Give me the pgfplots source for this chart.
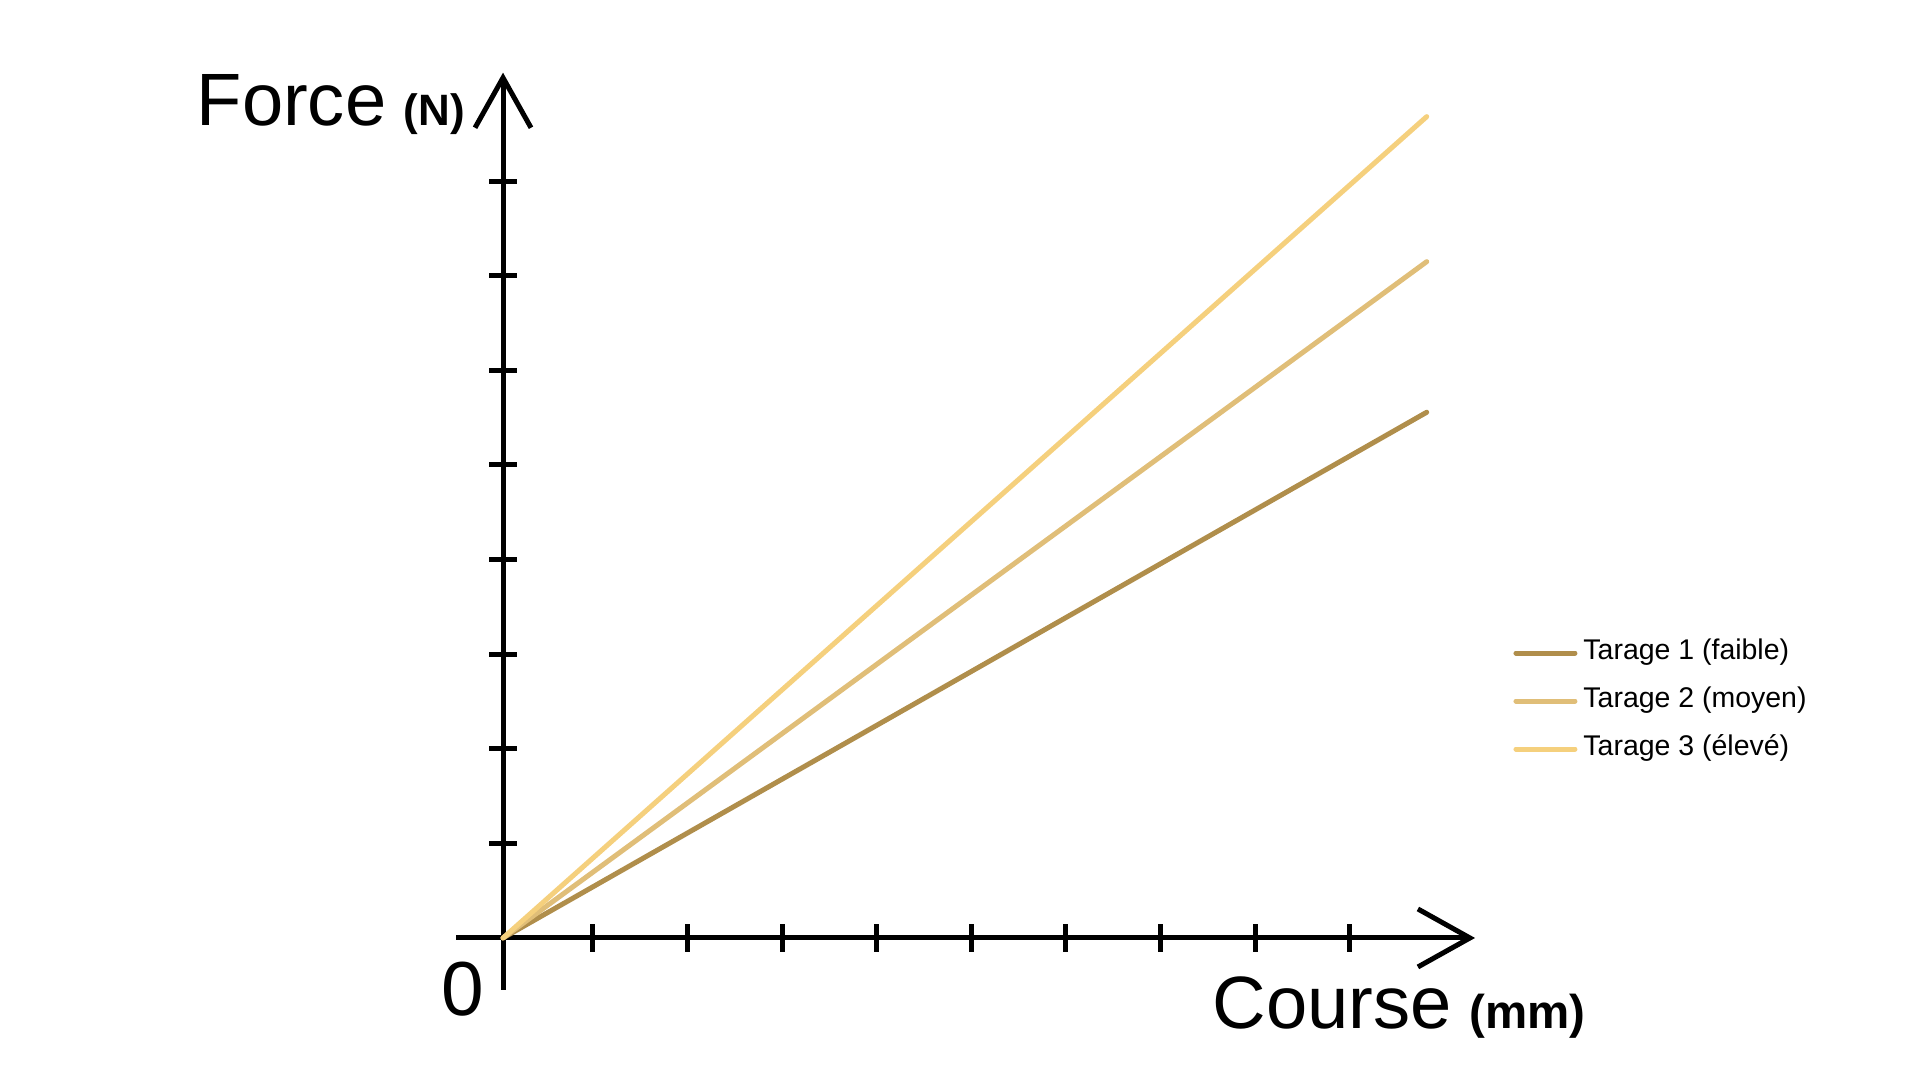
\documentclass[border=0pt]{standalone}
\usepackage{pgfplots}
\pgfplotsset{compat=1.18}
\usepackage{fontspec}
\setmainfont{Liberation Sans}
\usetikzlibrary{arrows.meta}
\definecolor{tone}{RGB}{176,142,75}
\definecolor{ttwo}{RGB}{224,190,120}
\definecolor{tthree}{RGB}{245,208,125}
\begin{document}
\begin{tikzpicture}
\path[use as bounding box] (0,0) rectangle (19.2,10.8);
\begin{axis}[
  at={(4.56cm,0.90cm)}, anchor=south west,
  x=0.946cm, y=0.946cm,
  axis lines=middle,
  xmin=-0.497, xmax=10.275, ymin=-0.55, ymax=9.147,
  xtick={0.95,1.95,2.95,3.95,4.95,5.95,6.95,7.95,8.95},
  ytick={1,2,3,4,5,6,7,8},
  xticklabels={}, yticklabels={},
  axis line style={line width=0.05cm, black},
  every inner x axis line/.append style={-{Straight Barb[length=0.52cm,width=0.58cm,line width=0.05cm]}},
  every inner y axis line/.append style={-{Straight Barb[length=0.50cm,width=0.56cm,line width=0.05cm]}},
  major tick style={line width=0.05cm, black},
  major tick length=0.28cm, tick align=center,
  clip=false,
  legend cell align=left,
  legend image code/.code={\draw[#1] (0cm,0cm) -- (0.59cm,0cm);},
  legend style={draw=none, fill=none, at={(1.037,0.315)}, anchor=west,
    inner sep=0pt, column sep=0.06cm, row sep=0.21cm,
    nodes={inner sep=0pt, text height=0.2cm, text depth=0.07cm},
    font=\fontsize{8.1}{9}\selectfont},
]
\addplot[tone, line width=0.05cm, line cap=round] coordinates {(0,0) (2,1.138) (4,2.276) (6,3.415) (8,4.553) (9.764,5.557)};
\addlegendentry{Tarage 1 (faible)}
\addplot[ttwo, line width=0.05cm, line cap=round] coordinates {(0,0) (2,1.464) (4,2.929) (6,4.393) (8,5.857) (9.764,7.149)};
\addlegendentry{Tarage 2 (moyen)}
\addplot[tthree, line width=0.05cm, line cap=round] coordinates {(0,0) (2,1.778) (4,3.557) (6,5.335) (8,7.114) (9.764,8.682)};
\addlegendentry{Tarage 3 (élevé)}
\end{axis}
\node[anchor=base west, inner sep=0pt] at (1.96,9.54) {\fontsize{21.1}{24}\selectfont Force\hspace{5pt}{\fontsize{12.5}{14}\selectfont\bfseries (N)}};
\node[anchor=base west, inner sep=0pt] at (12.12,0.51) {\fontsize{21.1}{24}\selectfont Course\hspace{5pt}{\fontsize{13.5}{15}\selectfont\bfseries (mm)}};
\node[anchor=base west, inner sep=0pt] at (4.41,0.64) {\fontsize{21.8}{24}\selectfont 0};
\end{tikzpicture}
\end{document}
